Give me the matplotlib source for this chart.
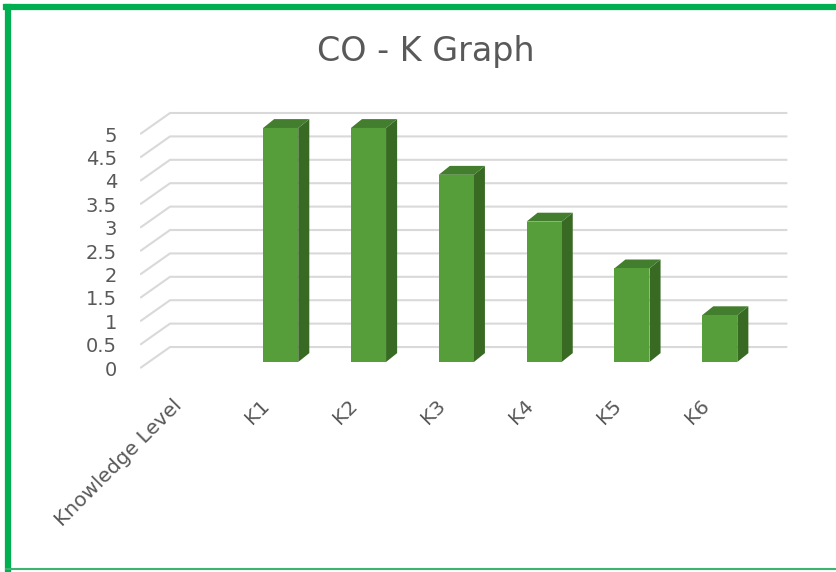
import numpy as np
import matplotlib.pyplot as plt
from matplotlib.patches import Polygon
from matplotlib.lines import Line2D
from matplotlib.transforms import ScaledTranslation

plt.rcParams['font.family'] = ['DejaVu Sans']

# chart data
categories = ["Knowledge Level", "K1", "K2", "K3", "K4", "K5", "K6"]
values = [np.nan, 5, 5, 4, 3, 2, 1]
y_ticks = [0, 0.5, 1, 1.5, 2, 2.5, 3, 3.5, 4, 4.5, 5]
y_labels = ["0", "0.5", "1", "1.5", "2", "2.5", "3", "3.5", "4", "4.5", "5"]

text_col = '#595959'
grid_col = '#d9d9d9'
front_col = '#559e3a'
side_col = '#386a24'
top_col = '#437e2e'

# fake 3d depth, in data units
bar_w = 0.40
bar_dx, bar_dy = 0.126, 0.19
wall_dy = 0.32          # back wall is shifted up from bar base
front_dy = -0.13        # front end of the floor lines
wall_left, wall_right = -0.26, 6.77
floor_left = -0.60

fig = plt.figure(figsize=(8.37, 5.72), dpi=100)
ax = fig.add_axes([140/837, 202/572, 650/837, 270/572])
ax.set_xlim(-0.602, 6.80)
ax.set_ylim(-0.171, 5.598)
for s in ax.spines.values():
    s.set_visible(False)

# gridlines: slanted floor part + horizontal wall part
for v in y_ticks:
    ax.plot([floor_left, wall_left, wall_right],
            [v + front_dy, v + wall_dy, v + wall_dy],
            color=grid_col, lw=1.5, zorder=1, solid_capstyle='butt')

x = np.arange(len(categories))
for xi, v in zip(x, values):
    if np.isnan(v):
        continue
    l, r = xi - bar_w/2, xi + bar_w/2
    ax.add_patch(Polygon([(r, 0), (r + bar_dx, bar_dy), (r + bar_dx, v + bar_dy), (r, v)],
                         closed=True, facecolor=side_col, edgecolor='none', zorder=3))
    ax.add_patch(Polygon([(l, v), (l + bar_dx, v + bar_dy), (r + bar_dx, v + bar_dy), (r, v)],
                         closed=True, facecolor=top_col, edgecolor='none', zorder=3))
ax.bar(x, np.nan_to_num(values), width=bar_w, color=front_col, zorder=4)

ax.set_yticks(np.array(y_ticks) + front_dy, y_labels)
ax.tick_params(axis='y', length=0, pad=16.5, labelsize=14, labelcolor=text_col)
ax.set_xticks(x, categories, rotation=45, ha='right')
ax.tick_params(axis='x', length=0, pad=19, labelsize=14.5, labelcolor=text_col)
shift = ScaledTranslation(-7/100, 0, fig.dpi_scale_trans)
for lab in ax.get_xticklabels():
    lab.set_transform(lab.get_transform() + shift)

fig.text(426/837, 1 - 52/572, "CO - K Graph", ha='center', va='center',
         fontsize=24, color=text_col)

# green frame of the chart area
frame = '#00b050'
fig.add_artist(Line2D([8/837, 8/837], [3/572, 1 - 7/572], color=frame, lw=4.5,
                      transform=fig.transFigure))
fig.add_artist(Line2D([6/837, 1.0], [1 - 7/572, 1 - 7/572], color=frame, lw=4.5,
                      transform=fig.transFigure))
fig.add_artist(Line2D([6/837, 1.0], [3/572, 3/572], color='#3cb371', lw=1.5,
                      transform=fig.transFigure))

fig.savefig('out.png', dpi=100)
